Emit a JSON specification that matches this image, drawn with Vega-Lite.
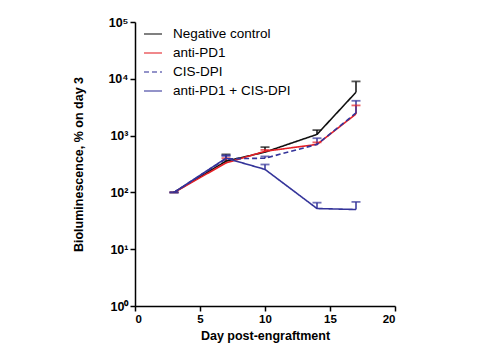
{
  "$schema": "https://vega.github.io/schema/vega-lite/v6.json",
  "autosize": "none",
  "width": 260,
  "height": 284,
  "padding": {"left": 135, "top": 22, "right": 90, "bottom": 54},
  "background": "white",
  "config": {
    "font": "Liberation Sans",
    "view": {"stroke": null}
  },
  "data": {
    "values": [
      {"series": "Negative control", "day": 3, "value": 100, "upper": 100},
      {"series": "Negative control", "day": 7, "value": 355, "upper": 467},
      {"series": "Negative control", "day": 10, "value": 512, "upper": 627},
      {"series": "Negative control", "day": 14, "value": 1050, "upper": 1250},
      {"series": "Negative control", "day": 17, "value": 5800, "upper": 9000},
      {"series": "anti-PD1", "day": 3, "value": 100, "upper": 100},
      {"series": "anti-PD1", "day": 7, "value": 330, "upper": 400},
      {"series": "anti-PD1", "day": 10, "value": 530, "upper": 560},
      {"series": "anti-PD1", "day": 14, "value": 700, "upper": 760},
      {"series": "anti-PD1", "day": 17, "value": 2400, "upper": 3400},
      {"series": "CIS-DPI", "day": 3, "value": 100, "upper": 100},
      {"series": "CIS-DPI", "day": 7, "value": 390, "upper": 440},
      {"series": "CIS-DPI", "day": 10, "value": 400, "upper": 430},
      {"series": "CIS-DPI", "day": 14, "value": 700, "upper": 900},
      {"series": "CIS-DPI", "day": 17, "value": 2500, "upper": 4100},
      {"series": "anti-PD1 + CIS-DPI", "day": 3, "value": 100, "upper": 100},
      {"series": "anti-PD1 + CIS-DPI", "day": 7, "value": 400, "upper": 450},
      {"series": "anti-PD1 + CIS-DPI", "day": 10, "value": 254, "upper": 310},
      {"series": "anti-PD1 + CIS-DPI", "day": 14, "value": 52, "upper": 66},
      {"series": "anti-PD1 + CIS-DPI", "day": 17, "value": 50, "upper": 68}
    ]
  },
  "encoding": {
    "x": {
      "field": "day", "type": "quantitative",
      "scale": {"domain": [0, 20], "nice": false, "zero": false},
      "axis": {
        "values": [0, 5, 10, 15, 20], "grid": false, "domainColor": "black", "domainWidth": 1.5,
        "tickColor": "black", "tickWidth": 1.5, "tickSize": 5,
        "labelFontSize": 11.5, "labelFontWeight": "bold", "labelColor": "black",
        "title": "Day post-engraftment", "titleFontSize": 12.5, "titleFontWeight": "bold",
        "titleColor": "black", "titlePadding": 5, "labelPadding": 2
      }
    },
    "y": {
      "field": "value", "type": "quantitative",
      "scale": {"type": "log", "domain": [1, 100000], "nice": false},
      "axis": {
        "values": [1, 10, 100, 1000, 10000, 100000], "grid": false, "domainColor": "black", "domainWidth": 1.5,
        "tickColor": "black", "tickWidth": 1.5, "tickSize": 5,
        "labelExpr": "datum.value == 1 ? '10⁰' : datum.value == 10 ? '10¹' : datum.value == 100 ? '10²' : datum.value == 1000 ? '10³' : datum.value == 10000 ? '10⁴' : '10⁵'",
        "labelFontSize": 12.5, "labelColor": "black", "labelFontWeight": "bold", "labelPadding": 2,
        "title": "Bioluminescence, % on day 3", "titleFontSize": 12.5, "titleFontWeight": "bold",
        "titleColor": "black", "titlePadding": 22
      }
    }
  },
  "layer": [
    {
      "mark": {"type": "rule", "strokeWidth": 1.5},
      "encoding": {
        "y2": {"field": "upper"},
        "color": {"field": "series", "type": "nominal"}
      }
    },
    {
      "mark": {"type": "tick", "orient": "horizontal", "size": 9, "thickness": 1.8},
      "encoding": {
        "y": {"field": "upper", "type": "quantitative"},
        "color": {"field": "series", "type": "nominal"}
      }
    },
    {
      "mark": {"type": "line", "strokeWidth": 1.6},
      "encoding": {
        "color": {"field": "series", "type": "nominal",
          "scale": {"domain": ["Negative control", "anti-PD1", "CIS-DPI", "anti-PD1 + CIS-DPI"], "range": ["#111111", "#e41f26", "#34349a", "#34349a"]},
          "legend": {
            "title": null, "orient": "none", "legendX": 8, "legendY": 2,
            "symbolType": "stroke", "symbolSize": 324, "symbolStrokeWidth": 1.6,
            "labelFontSize": 13.5, "labelColor": "black", "labelOffset": 10, "rowPadding": 2
          }
        },
        "strokeDash": {"field": "series", "type": "nominal",
          "scale": {"domain": ["Negative control", "anti-PD1", "CIS-DPI", "anti-PD1 + CIS-DPI"], "range": [[1, 0], [1, 0], [5, 3], [1, 0]]},
          "legend": {
            "title": null, "orient": "none", "legendX": 8, "legendY": 2,
            "symbolType": "stroke", "symbolSize": 324, "symbolStrokeWidth": 1.6,
            "labelFontSize": 13.5, "labelColor": "black", "labelOffset": 10, "rowPadding": 2
          }
        }
      }
    }
  ]
}
